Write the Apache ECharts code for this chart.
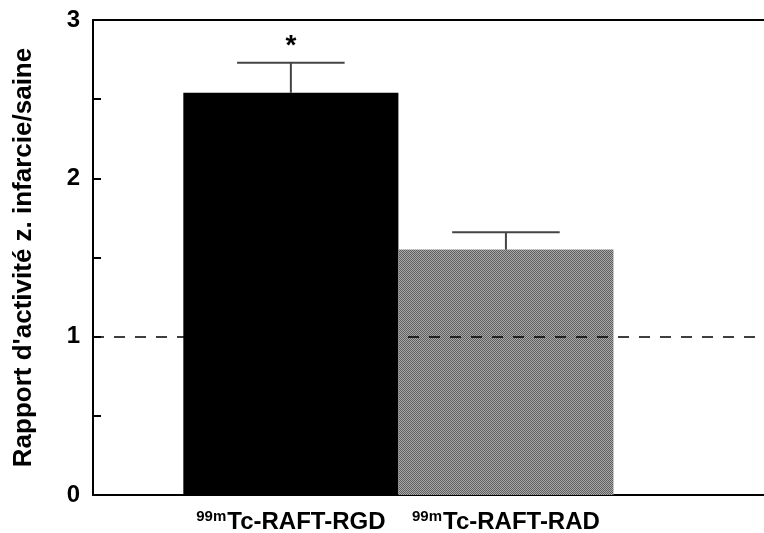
<!DOCTYPE html>
<html>
<head>
    <meta charset="utf-8">
    <title>Rapport d'activité</title>
    <script src="https://cdn.jsdelivr.net/npm/echarts@6/dist/echarts.min.js"></script>
    <style>
        html, body { margin: 0; padding: 0; background: #fff; }
        #chart1 { width: 764px; height: 533px; }
    </style>
</head>
<body>
<div id="chart1"></div>
<script>
    // données
    var categories = ['Tc-RAFT-RGD', 'Tc-RAFT-RAD'];
    var isotope = '99m';
    var means = [2.54, 1.55];
    var errors = [0.19, 0.11];
    var stars = ['*', ''];
    var yTicks = [0, 1, 2, 3];
    var refLine = 1;

    // motif hachuré gris pour la 2e barre
    function makePattern() {
        var c = document.createElement('canvas');
        c.width = 2; c.height = 2;
        var ctx = c.getContext('2d');
        ctx.fillStyle = '#a9a9a9';
        ctx.fillRect(0, 0, 2, 2);
        ctx.fillStyle = '#5e5e5e';
        ctx.fillRect(0, 0, 1, 1);
        ctx.fillRect(1, 1, 1, 1);
        return c;
    }
    var fills = ['#000000', { image: makePattern(), repeat: 'repeat' }];

    var barData = means.map(function (m, i) { return [i, m, errors[i]]; });

    var myChart1 = echarts.init(document.getElementById('chart1'));
    myChart1.setOption({
        animation: false,
        textStyle: { fontFamily: 'Liberation Sans, Arial, sans-serif' },
        grid: { left: 93, right: 0, top: 20, bottom: 38, outerBoundsMode: 'none', containLabel: false },
        xAxis: [{
            type: 'value',
            min: -0.42,
            max: 2.7,
            splitLine: { show: false },
            axisLine: { show: true, onZero: false, lineStyle: { color: '#000', width: 2 } },
            axisTick: { show: false },
            axisLabel: {
                customValues: [0.5, 1.5],
                margin: 14,
                formatter: function (v) {
                    var i = Math.floor(v);
                    return '{sup|' + isotope + '}{main|' + categories[i] + '}';
                },
                rich: {
                    sup: { fontSize: 15, fontWeight: 'bold', color: '#000', padding: [0, 1, 11, 0] },
                    main: { fontSize: 24, fontWeight: 'bold', color: '#000' }
                }
            }
        }, {
            type: 'value',
            position: 'top',
            min: -0.42,
            max: 2.7,
            splitLine: { show: false },
            axisLine: { show: true, onZero: false, lineStyle: { color: '#000', width: 2 } },
            axisTick: { show: false },
            axisLabel: { show: false }
        }],
        yAxis: {
            type: 'value',
            min: 0,
            max: 3,
            interval: 0.5,
            name: "Rapport d'activité z. infarcie/saine",
            nameLocation: 'middle',
            nameGap: 56,
            nameTextStyle: { fontSize: 26, fontWeight: 'bold', color: '#000' },
            splitLine: { show: false },
            axisLine: { show: true, onZero: false, lineStyle: { color: '#000', width: 2 } },
            axisTick: { show: true, inside: true, length: 8, lineStyle: { color: '#000', width: 2 } },
            axisLabel: {
                margin: 13,
                fontSize: 24,
                fontWeight: 'bold',
                color: '#000',
                formatter: function (v) {
                    return yTicks.indexOf(v) >= 0 ? String(v) : '';
                }
            }
        },
        series: [{
            type: 'custom',
            name: 'barres',
            z: 3,
            data: barData,
            renderItem: function (params, api) {
                var i = api.value(0);
                var p0 = api.coord([i, api.value(1)]);
                var p1 = api.coord([i + 1, 0]);
                return {
                    type: 'rect',
                    shape: { x: p0[0], y: p0[1], width: p1[0] - p0[0], height: p1[1] - p0[1] },
                    style: { fill: fills[i] }
                };
            }
        }, {
            type: 'custom',
            name: 'erreurs',
            z: 4,
            data: barData,
            renderItem: function (params, api) {
                var i = api.value(0);
                var m = api.value(1);
                var top = m + api.value(2);
                var pb = api.coord([i + 0.5, m]);
                var pt = api.coord([i + 0.5, top]);
                var cl = api.coord([i + 0.25, top]);
                var cr = api.coord([i + 0.75, top]);
                var st = { stroke: '#444', lineWidth: 2 };
                return {
                    type: 'group',
                    children: [
                        { type: 'line', shape: { x1: pb[0], y1: pb[1], x2: pt[0], y2: pt[1] }, style: st },
                        { type: 'line', shape: { x1: cl[0], y1: cl[1], x2: cr[0], y2: cr[1] }, style: st },
                        {
                            type: 'text',
                            style: {
                                text: stars[i], x: pt[0], y: pt[1] - 2,
                                align: 'center', verticalAlign: 'bottom',
                                fontSize: 28, fontWeight: 'bold', fill: '#000',
                                fontFamily: 'Liberation Sans, Arial, sans-serif'
                            }
                        }
                    ]
                };
            }
        }, {
            type: 'line',
            name: 'ref',
            data: [],
            z: 2,
            markLine: {
                silent: true,
                symbol: 'none',
                label: { show: false },
                lineStyle: { color: '#000', width: 1.5, type: [11, 10] },
                data: [{ yAxis: refLine }]
            }
        }]
    });
</script>
</body>
</html>
